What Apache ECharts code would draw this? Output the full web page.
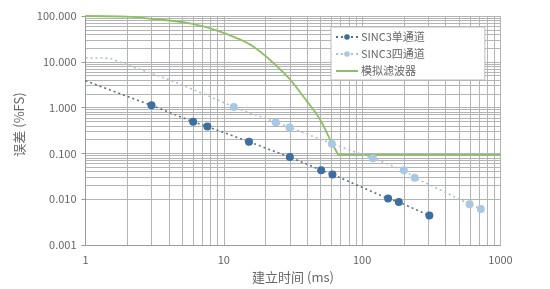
<!DOCTYPE html>
<html>
<head>
<meta charset="utf-8">
<script src="https://cdn.jsdelivr.net/npm/echarts@6/dist/echarts.min.js"></script>
<style>html,body{margin:0;padding:0;background:#fff;}#c{width:550px;height:289px;}</style>
</head>
<body>
<div id="c"></div>
<script>
// ---- data ----
const seriesNames = ['SINC3单通道', 'SINC3四通道', '模拟滤波器'];
// SINC3 single channel: line starts at x=1 (no marker), then markers
const sinc1Start = [[1, 3.85]];
const sinc1Points = [[3, 1.12], [6, 0.49], [7.6, 0.385], [15.2, 0.18], [30, 0.083], [50.5, 0.043], [61, 0.0347], [154, 0.0103], [184, 0.0087], [306, 0.0044]];
// SINC3 four channel: line-only head, then markers
const sinc4Start = [[1, 12.2], [1.5, 12], [2.1, 8.1], [3.65, 4.56], [6.7, 2.17]];
const sinc4Points = [[11.8, 1.03], [23.7, 0.48], [29.9, 0.37], [60.4, 0.163], [119.5, 0.078], [200, 0.043], [240, 0.0295], [598, 0.0078], [721, 0.0061]];
// analog filter curve (roll-off part, then flat floor)
const analogCurve = [[1, 100], [2, 97], [2.9, 88], [5.7, 69], [9.4, 45.6], [16.3, 21.7], [28.5, 4.93], [39.7, 1.4], [49.6, 0.55], [60.3, 0.169], [67.3, 0.093]];
const analogFloor = [[67.3, 0.093], [1000, 0.093]];
const xTickLabels = ['1', '10', '100', '1000'];
const yTickLabels = ['100.000', '10.000', '1.000', '0.100', '0.010', '0.001'];

// minor grid values (log grid 2..9 per decade)
const xMinor = [], yMinor = [];
[1, 10, 100].forEach(d => { for (let k = 2; k <= 9; k++) xMinor.push(d * k); });
[0.001, 0.01, 0.1, 1, 10].forEach(d => { for (let k = 2; k <= 9; k++) yMinor.push(+(d * k).toPrecision(3)); });

const gridColor = '#b4b4b4';
const darkBlue = '#3c6e9f', darkLine = '#5b7088';
const lightBlue = '#a9c8e2', lightLine = '#aebfcf';
const green = '#8dc063';

function withHead(head, pts) {
  return head.map(p => ({ value: p, symbol: 'none' })).concat(pts.map(p => ({ value: p })));
}

const chart = echarts.init(document.getElementById('c'), null, { renderer: 'canvas' });
chart.setOption({
  animation: false,
  backgroundColor: '#fff',
  grid: { left: 85.5, right: 49.5, top: 16, bottom: 40, containLabel: false },
  xAxis: {
    type: 'log', logBase: 10, min: 1, max: 1000,
    axisLine: { show: true, lineStyle: { color: '#999', width: 1 } },
    axisTick: { show: false },
    axisLabel: { color: '#666', fontSize: 11, margin: 9, fontFamily: 'Noto Sans CJK SC',
      formatter: v => { const i = Math.round(Math.log10(v)); return xTickLabels[i]; } },
    splitLine: { show: true, lineStyle: { color: gridColor, width: 1 } },
    name: '建立时间 (ms)', nameLocation: 'middle', nameGap: 26,
    nameTextStyle: { color: '#666', fontSize: 13, fontFamily: 'Noto Sans CJK SC' }
  },
  yAxis: {
    type: 'log', logBase: 10, min: 0.001, max: 100,
    axisLine: { show: true, lineStyle: { color: '#999', width: 1 } },
    axisTick: { show: true, length: 4, lineStyle: { color: '#999' } },
    axisLabel: { color: '#666', fontSize: 11, margin: 9, fontFamily: 'Noto Sans CJK SC',
      formatter: v => { const i = Math.round(2 - Math.log10(v)); return yTickLabels[i]; } },
    splitLine: { show: true, lineStyle: { color: gridColor, width: 1 } },
    name: '误差 (%FS)', nameLocation: 'middle', nameGap: 56,
    nameTextStyle: { color: '#666', fontSize: 13, fontFamily: 'Noto Sans CJK SC', padding: [0, 0, 0, 12] }
  },
  legend: {
    orient: 'vertical', left: 331, top: 27, z: 20,
    data: [
      { name: seriesNames[0] },
      { name: seriesNames[1] },
      { name: seriesNames[2], itemStyle: { opacity: 0 } }
    ],
    backgroundColor: '#fff', borderColor: '#bbb', borderWidth: 1,
    padding: [3, 60, 2, 4],
    itemWidth: 22, itemHeight: 7, itemGap: 3,
    textStyle: { color: '#666', fontSize: 11, lineHeight: 14, fontFamily: 'Noto Sans CJK SC', padding: [0, 0, 0, -2] }
  },
  series: [
    {
      name: '_grid', type: 'line', data: [], silent: true, z: 0,
      markLine: {
        z: 0, silent: true, symbol: ['none', 'none'], label: { show: false },
        lineStyle: { color: gridColor, width: 1, type: 'solid' },
        animation: false,
        data: xMinor.map(v => ({ xAxis: v })).concat(yMinor.map(v => ({ yAxis: v })))
      }
    },
    {
      name: seriesNames[2], type: 'line', data: analogCurve, showSymbol: false, symbol: 'none',
      smooth: 0.3,
      lineStyle: { color: green, width: 1.8 }, itemStyle: { color: green }, z: 3
    },
    {
      name: seriesNames[2], type: 'line', data: analogFloor, showSymbol: false, symbol: 'none',
      lineStyle: { color: green, width: 1.8 }, itemStyle: { color: green }, z: 3
    },
    {
      name: seriesNames[1], type: 'line', data: withHead(sinc4Start, sinc4Points),
      symbol: 'circle', symbolSize: 8,
      lineStyle: { color: lightLine, width: 1.6, type: [2, 3] },
      itemStyle: { color: lightBlue }, z: 4
    },
    {
      name: seriesNames[0], type: 'line', data: withHead(sinc1Start, sinc1Points),
      symbol: 'circle', symbolSize: 8,
      lineStyle: { color: darkLine, width: 1.6, type: [2, 3] },
      itemStyle: { color: darkBlue }, z: 5
    }
  ]
});
</script>
</body>
</html>
